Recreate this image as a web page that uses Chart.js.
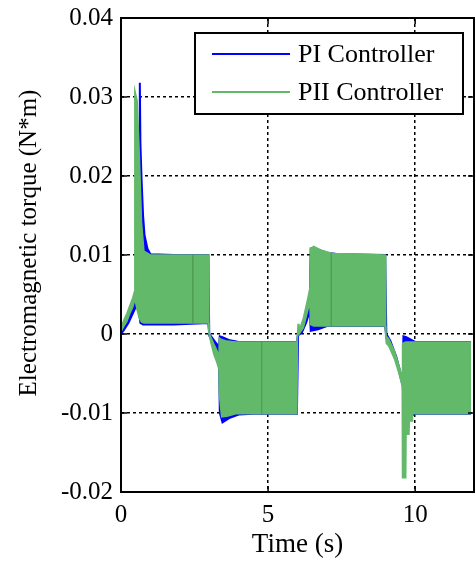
<!DOCTYPE html>
<html>
<head>
<meta charset="utf-8">
<script src="https://cdn.jsdelivr.net/npm/chart.js@4.4.1/dist/chart.umd.min.js"></script>
<style>
  html, body { margin: 0; padding: 0; background: #fff; }
  #wrap { width: 476px; height: 563px; }
</style>
</head>
<body>
<div id="wrap"><canvas id="torqueChart"></canvas></div>
<script>
// axis ticks
const xTicks = [0, 5, 10];
const yTicks = [-0.02, -0.01, 0, 0.01, 0.02, 0.03, 0.04];

// PII controller: time and envelope of the (dense) torque ripple
const piiTime  = [0, 0.10, 0.20, 0.30, 0.40, 0.46, 0.47, 0.55, 0.62, 0.70, 0.78, 1.00, 2.97, 2.99, 3.05, 3.15, 3.25, 3.33, 3.34, 3.42, 3.60, 3.90, 5.98, 6.00, 6.02, 6.05, 6.20, 6.35, 6.42, 6.44, 6.55, 6.80, 7.20, 8.98, 9.00, 9.02, 9.10, 9.30, 9.45, 9.56, 9.57, 9.68, 9.69, 9.79, 9.80, 9.90, 9.91, 11.9];
const piiUpper = [0.0008, 0.0018, 0.0026, 0.0036, 0.0046, 0.0054, 0.0308, 0.0295, 0.0230, 0.0140, 0.0105, 0.0100, 0.0100, 0.0002, -0.0004, -0.0012, -0.0020, -0.0030, -0.0005, -0.0007, -0.0009, -0.0010, -0.0010, 0.0000, 0.0013, 0.0004, 0.0020, 0.0045, 0.0058, 0.0108, 0.0111, 0.0106, 0.0102, 0.0100, 0.0000, -0.0003, -0.0006, -0.0022, -0.0040, -0.0056, -0.0012, -0.0010, -0.0010, -0.0010, -0.0010, -0.0010, -0.0010, -0.0010];
const piiLower = [0.0003, 0.0010, 0.0016, 0.0026, 0.0034, 0.0042, 0.0045, 0.0030, 0.0020, 0.0015, 0.0014, 0.0014, 0.0014, 0.0000, -0.0010, -0.0025, -0.0035, -0.0045, -0.0075, -0.0105, -0.0104, -0.0101, -0.0101, -0.0002, -0.0001, 0.0000, 0.0008, 0.0030, 0.0040, 0.0012, 0.0010, 0.0010, 0.0010, 0.0010, -0.0005, -0.0012, -0.0015, -0.0032, -0.0050, -0.0066, -0.0182, -0.0182, -0.0127, -0.0127, -0.0110, -0.0110, -0.0101, -0.0101];

// PI controller envelope
const piTime  = [0, 0.10, 0.25, 0.40, 0.50, 0.62, 0.64, 0.66, 0.70, 0.75, 0.80, 0.90, 1.00, 1.80, 2.97, 3.00, 3.10, 3.20, 3.33, 3.36, 3.45, 3.70, 4.00, 4.50, 5.98, 6.02, 6.15, 6.30, 6.42, 6.45, 6.70, 7.00, 7.40, 8.98, 9.02, 9.15, 9.35, 9.58, 9.60, 9.70, 9.90, 10.0, 11.9];
const piUpper = [0.0003, 0.0010, 0.0022, 0.0035, 0.0044, 0.0050, 0.0318, 0.0240, 0.0195, 0.0150, 0.0125, 0.0108, 0.0101, 0.0100, 0.0100, 0.0000, -0.0005, -0.0010, -0.0016, -0.0003, -0.0004, -0.0008, -0.0010, -0.0010, -0.0010, 0.0000, 0.0008, 0.0025, 0.0042, 0.0108, 0.0107, 0.0103, 0.0101, 0.0100, 0.0000, -0.0008, -0.0028, -0.0060, -0.0003, -0.0004, -0.0008, -0.0010, -0.0010];
const piLower = [0.0000, 0.0005, 0.0014, 0.0026, 0.0034, 0.0030, 0.0020, 0.0014, 0.0013, 0.0012, 0.0012, 0.0012, 0.0012, 0.0012, 0.0014, -0.0002, -0.0010, -0.0016, -0.0022, -0.0100, -0.0112, -0.0106, -0.0102, -0.0101, -0.0101, -0.0002, 0.0002, 0.0015, 0.0030, 0.0004, 0.0006, 0.0010, 0.0010, 0.0010, -0.0003, -0.0012, -0.0032, -0.0066, -0.0090, -0.0103, -0.0103, -0.0101, -0.0101];

// thin darker stripes inside the PII band
const stripeTime   = [2.44, 4.78, 7.15];
const stripeTop    = [0.0100, -0.0010, 0.0102];
const stripeBottom = [0.0014, -0.0101, 0.0010];

const seriesLabels = ['PI Controller', 'PII Controller'];
const yTitle = 'Electromagnetic torque (N*m)';
const blue = '#0000ff';
const green = '#63b96a';
const serif = '"Liberation Serif", "Times New Roman", serif';

function toPoints(ts, vs) {
    return ts.map((t, i) => ({ x: t, y: vs[i] }));
}

let stripePoints = [];
stripeTime.forEach((t, i) => {
    stripePoints.push({ x: t, y: stripeTop[i] });
    stripePoints.push({ x: t, y: stripeBottom[i] });
    stripePoints.push({ x: t, y: null });
});

// box, inward tick marks, y title and legend
const frameAndLegend = {
    id: 'frameAndLegend',
    afterDraw(chart) {
        const ctx = chart.ctx;
        const a = chart.chartArea;
        const xs = chart.scales.x, ys = chart.scales.y;
        ctx.save();
        ctx.strokeStyle = '#000';
        ctx.lineWidth = 1.5;
        ctx.beginPath();
        yTicks.forEach(v => {
            const py = ys.getPixelForValue(v);
            ctx.moveTo(a.left, py); ctx.lineTo(a.left + 6, py);
            ctx.moveTo(a.right, py); ctx.lineTo(a.right - 6, py);
        });
        xTicks.forEach(v => {
            const px = xs.getPixelForValue(v);
            ctx.moveTo(px, a.bottom); ctx.lineTo(px, a.bottom - 6);
            ctx.moveTo(px, a.top); ctx.lineTo(px, a.top + 6);
        });
        ctx.stroke();
        ctx.lineWidth = 2;
        ctx.strokeRect(a.left, a.top, a.right - a.left, a.bottom - a.top);

        // y axis title
        ctx.save();
        ctx.translate(29, 243);
        ctx.rotate(-Math.PI / 2);
        ctx.font = '25px ' + serif;
        ctx.fillStyle = '#000';
        ctx.textAlign = 'center';
        ctx.textBaseline = 'middle';
        ctx.fillText(yTitle, 0, 0);
        ctx.restore();

        // legend box
        const lx = a.left + 74, ly = a.top + 15, lw = 268, lh = 81;
        ctx.fillStyle = '#fff';
        ctx.fillRect(lx, ly, lw, lh);
        ctx.strokeRect(lx, ly, lw, lh);
        const colors = [blue, green];
        const rows = [21, 59];
        ctx.font = '26px ' + serif;
        ctx.textBaseline = 'middle';
        rows.forEach((dy, i) => {
            ctx.strokeStyle = colors[i];
            ctx.lineWidth = 2;
            ctx.beginPath();
            ctx.moveTo(lx + 17, ly + dy);
            ctx.lineTo(lx + 95, ly + dy);
            ctx.stroke();
            ctx.fillStyle = '#000';
            ctx.fillText(seriesLabels[i], lx + 103, ly + dy + 1);
        });
        ctx.restore();
    }
};

new Chart(document.getElementById('torqueChart'), {
    type: 'line',
    data: {
        datasets: [
            {
                label: 'stripes',
                data: stripePoints,
                borderColor: '#4f9f58',
                borderWidth: 1,
                pointRadius: 0,
                spanGaps: false,
                fill: false
            },
            {
                label: seriesLabels[1],
                data: toPoints(piiTime, piiUpper),
                borderColor: green,
                backgroundColor: green,
                borderWidth: 1.5,
                pointRadius: 0,
                fill: '+1'
            },
            {
                label: seriesLabels[1] + ' low',
                data: toPoints(piiTime, piiLower),
                borderColor: green,
                borderWidth: 1.5,
                pointRadius: 0,
                fill: false
            },
            {
                label: seriesLabels[0],
                data: toPoints(piTime, piUpper),
                borderColor: blue,
                backgroundColor: blue,
                borderWidth: 2,
                pointRadius: 0,
                fill: '+1'
            },
            {
                label: seriesLabels[0] + ' low',
                data: toPoints(piTime, piLower),
                borderColor: blue,
                borderWidth: 2,
                pointRadius: 0,
                fill: false
            }
        ]
    },
    options: {
        responsive: true,
        maintainAspectRatio: false,
        animation: false,
        layout: { padding: { top: 17, right: 2, left: 0, bottom: 0 } },
        plugins: {
            legend: { display: false },
            tooltip: { enabled: false }
        },
        scales: {
            x: {
                type: 'linear',
                min: 0,
                max: 12,
                afterBuildTicks: s => { s.ticks = xTicks.map(v => ({ value: v })); },
                afterFit: s => { s.height = 71; },
                border: { display: false, dash: [3, 3] },
                grid: { color: '#000', lineWidth: 1.5, drawTicks: false },
                ticks: { color: '#000', font: { family: serif, size: 25 }, padding: 8, maxRotation: 0 },
                title: { display: true, text: 'Time (s)', color: '#000', font: { family: serif, size: 27 }, padding: { top: 0, bottom: 2 } }
            },
            y: {
                type: 'linear',
                min: -0.02,
                max: 0.04,
                afterBuildTicks: s => { s.ticks = yTicks.map(v => ({ value: v })); },
                afterFit: s => { s.width = 121; },
                border: { display: false, dash: [3, 3] },
                grid: { color: '#000', lineWidth: 1.5, drawTicks: false },
                ticks: {
                    color: '#000',
                    font: { family: serif, size: 25, lineHeight: 0.8 },
                    padding: 8,
                    callback: v => v === 0 ? '0' : v.toFixed(2)
                },
                title: { display: false }
            }
        }
    },
    plugins: [frameAndLegend]
});
</script>
</body>
</html>
